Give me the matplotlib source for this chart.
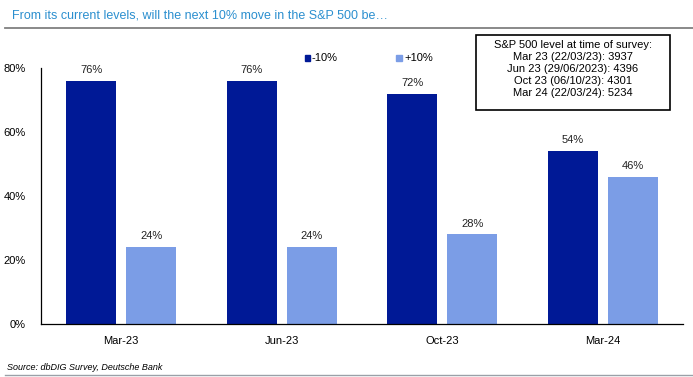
import matplotlib
matplotlib.use("Agg")
import matplotlib.pyplot as plt
import numpy as np
from matplotlib.patches import Rectangle

categories = ["Mar-23", "Jun-23", "Oct-23", "Mar-24"]
down10 = [76, 76, 72, 54]
up10 = [24, 24, 28, 46]
series_names = ["-10%", "+10%"]
yticks = [0, 20, 40, 60, 80]
box_lines = ["S&P 500 level at time of survey:",
             "Mar 23 (22/03/23): 3937",
             "Jun 23 (29/06/2023): 4396",
             "Oct 23 (06/10/23): 4301",
             "Mar 24 (22/03/24): 5234"]
title = "From its current levels, will the next 10% move in the S&P 500 be\u2026"
source = "Source: dbDIG Survey, Deutsche Bank"

dark = "#001996"
light = "#7B9DE6"
W, H = 693, 377
fig = plt.figure(figsize=(W/100, H/100), dpi=100)

font = ["Liberation Sans", "DejaVu Sans"]
plt.rcParams['font.family'] = font

ax = fig.add_axes([41/W, 1-324/H, (683-41)/W, (324-68)/H])
x = np.arange(len(categories))
bw = 0.31
gap = 0.065
b1 = ax.bar(x - (bw+gap)/2, down10, bw, color=dark, label=series_names[0])
b2 = ax.bar(x + (bw+gap)/2, up10, bw, color=light, label=series_names[1])
for bars, vals in ((b1, down10), (b2, up10)):
    for r, v in zip(bars, vals):
        ax.text(r.get_x()+r.get_width()/2, v+1.8, f"{v}%", ha="center", va="bottom",
                fontsize=8, color="#222222")
ax.set_xlim(-0.5, len(categories)-0.5)
ax.set_ylim(0, 80)
ax.set_yticks(yticks)
ax.set_yticklabels([f"{t}%" for t in yticks], fontsize=8)
ax.set_xticks(x)
ax.set_xticklabels(categories, fontsize=8)
ax.tick_params(length=0, pad=9)
ax.tick_params(axis='y', pad=11)
for s in ("top", "right"):
    ax.spines[s].set_visible(False)
for s in ("left", "bottom"):
    ax.spines[s].set_color("black")
    ax.spines[s].set_linewidth(0.9)

# legend (manual placement)
for px, col, name, sz in ((305, dark, series_names[0], 5), (396, light, series_names[1], 6)):
    fig.patches.append(Rectangle((px/W, 1-(58+sz/2)/H), sz/W, sz/H, transform=fig.transFigure,
                                 color=col))
    fig.text((px+sz+2)/W, 1-58/H, name, fontsize=8, va="center", ha="left")

# text box
fig.patches.append(Rectangle((476/W, 1-110/H), (670-476)/W, (110-35)/H,
                             transform=fig.transFigure, fill=False, edgecolor="black",
                             linewidth=1.2))
ys = [45, 57, 69, 81, 93]
for yy, t in zip(ys, box_lines):
    fig.text(573/W, 1-yy/H, t, fontsize=8, ha="center", va="center")

fig.text(12/W, 1-16/H, title, fontsize=9, color="#2B8FCF", ha="left", va="center")
fig.add_artist(plt.Line2D([5/W, 1], [1-28/H, 1-28/H], color="#808080", linewidth=1.3,
                          transform=fig.transFigure))
fig.text(7/W, 1-368/H, source, fontsize=6.5, style="italic", ha="left", va="center")
fig.add_artist(plt.Line2D([5/W, 1], [1-374.5/H, 1-374.5/H], color="#9AA0A8", linewidth=1.0,
                          transform=fig.transFigure))

fig.savefig("out.png", dpi=100)
